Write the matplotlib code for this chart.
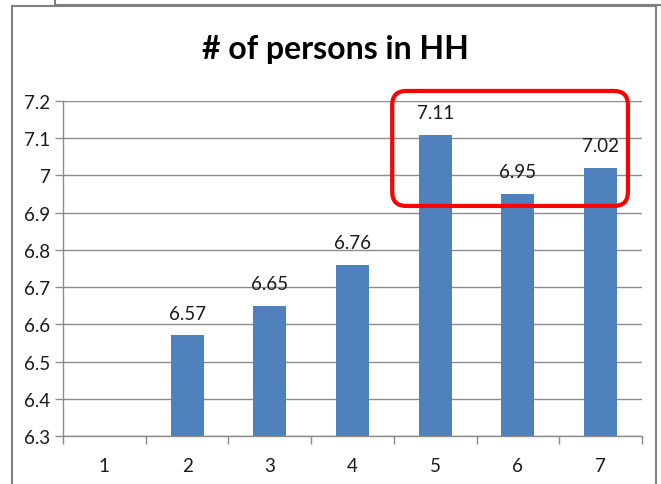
import matplotlib.pyplot as plt
from matplotlib.patches import FancyBboxPatch
from matplotlib.lines import Line2D

categories = [1, 2, 3, 4, 5, 6, 7]
persons = [None, 6.57, 6.65, 6.76, 7.11, 6.95, 7.02]
highlight = [5, 6, 7]

bar_color = '#4F81BD'
grid_color = '#8C8C8C'
font = ['Lato', 'DejaVu Sans']

W, H = 661, 485
fig = plt.figure(figsize=(W / 100, H / 100), dpi=100)
ax = fig.add_axes([63 / W, 1 - 437 / H, (642 - 63) / W, (437 - 102) / H])

xs = [c for c, v in zip(categories, persons) if v is not None]
vals = [v for v in persons if v is not None]
bars = ax.bar(xs, [v - 6.3 for v in vals], bottom=6.3, width=0.4,
              color=bar_color, zorder=3)

for x, v in zip(xs, vals):
    ax.annotate(f'{v:.2f}', (x, v), xytext=(0, 10), textcoords='offset points',
                ha='center', va='bottom', fontsize=13.5, family=font, color='#1A1A1A')

ax.set_xlim(0.5, 7.5)
ax.set_ylim(6.3, 7.2)
ax.set_yticks([6.3 + 0.1 * i for i in range(10)])
ax.set_yticklabels(['6.3', '6.4', '6.5', '6.6', '6.7', '6.8', '6.9', '7', '7.1', '7.2'])
ax.set_xticks(categories)
ax.set_xticks([c + 0.5 for c in categories[:-1]] + [0.5, 7.5], minor=True)
ax.tick_params(axis='x', which='major', length=0, pad=15, labelsize=13.5)
ax.tick_params(axis='x', which='minor', length=6, width=1, color=grid_color)
ax.tick_params(axis='y', length=6, width=1, color=grid_color, labelsize=13.5, pad=3)
for lab in ax.get_xticklabels() + ax.get_yticklabels():
    lab.set_family(font)
    lab.set_color('#1A1A1A')

ax.grid(axis='y', color=grid_color, linewidth=1, zorder=0)
for s in ['top', 'right']:
    ax.spines[s].set_visible(False)
for s in ['left', 'bottom']:
    ax.spines[s].set_color(grid_color)
    ax.spines[s].set_linewidth(1)

fig.suptitle('# of persons in HH', x=335 / W, y=1 - 50 / H, va='center',
             fontsize=23, fontweight='bold', family=font)

# red rounded box around the last three categories
fig.canvas.draw()
x0, y0 = ax.transData.transform((min(highlight) - 0.52, 6.918))
x1, y1 = ax.transData.transform((max(highlight) + 0.33, 7.227))
r = 14
box = FancyBboxPatch((x0 + r, y0 + r), (x1 - x0) - 2 * r, (y1 - y0) - 2 * r,
                     boxstyle=f'round,pad={r}', transform=None,
                     fill=False, edgecolor='#FF0000', linewidth=3, zorder=5)
fig.patches.append(box)

# frame lines of the slide
frame = '#808080'
def pline(xp, yp):
    fig.add_artist(Line2D([x / W for x in xp], [1 - y / H for y in yp],
                          transform=fig.transFigure, color=frame, linewidth=1.5))
pline([12, 12], [7, 485])
pline([12, 656], [7, 7])
pline([656, 656], [7, 485])
pline([55, 55], [0, 7])
pline([55, 661], [6, 6])

fig.savefig('out.png', dpi=100)
